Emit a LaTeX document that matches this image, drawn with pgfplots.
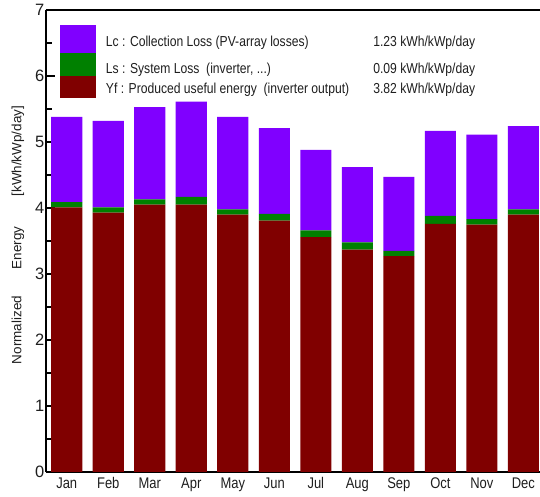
\documentclass[border=0pt]{standalone}
\usepackage{fontspec}
\setmainfont{Liberation Sans}
\newfontfamily\narrowsans{Liberation Sans}[FakeStretch=0.84]
\usepackage{pgfplots}
\usepackage{pgfplotstable}
\pgfplotsset{compat=1.18}
\definecolor{lcpurple}{RGB}{128,0,255}
\definecolor{lsgreen}{RGB}{0,128,0}
\definecolor{yfred}{RGB}{128,0,0}
\definecolor{txt}{RGB}{30,30,30}
\newcommand\xtickfont{\narrowsans\fontsize{15.5}{18}\selectfont}
\newcommand\ytickfont{\fontsize{16.5}{19}\selectfont}
\newcommand\legfont{\narrowsans\fontsize{14.5}{17}\selectfont}
\newcommand\labfont{\fontsize{13.5}{16}\selectfont}

\pgfplotstableread{
m  Yf    Ls    Lc
0  4.01  0.08  1.29
1  3.93  0.08  1.31
2  4.05  0.08  1.40
3  4.05  0.12  1.44
4  3.90  0.08  1.40
5  3.81  0.10  1.30
6  3.56  0.10  1.22
7  3.37  0.11  1.14
8  3.27  0.08  1.12
9  3.76  0.12  1.29
10 3.75  0.08  1.28
11 3.90  0.08  1.26
}\datatable

\begin{document}
\begin{tikzpicture}
\begin{axis}[
  scale only axis,
  width=494bp, height=462bp,
  xmin=-0.5, xmax=11.4, ymin=0, ymax=7,
  ybar stacked, bar width=0.75,
  axis x line=box, axis y line=left,
  axis line style={line width=1.6pt,-},
  every outer y axis line/.append style={-},
  tick align=inside,
  xtick={0,...,11},
  xticklabels={Jan,Feb,Mar,Apr,May,Jun,Jul,Aug,Sep,Oct,Nov,Dec},
  major x tick style={draw=none},
  extra x ticks={0.5,1.5,...,10.5},
  extra x tick labels={},
  extra x tick style={major tick length=10bp, tick style={line width=1.8pt,black}},
  ytick={0,...,7},
  minor ytick={0.5,1.5,...,6.5},
  ytick pos=left,
  y tick style={line width=1.8pt,black},
  major tick length=9bp, minor tick length=6bp,
  /pgf/number format/assume math mode=true,
  xticklabel style={font=\xtickfont, text=txt, yshift=-2bp},
  yticklabel style={font=\ytickfont, text=txt, inner sep=1.5bp},
  ylabel={Normalized\hspace{27bp}Energy\hspace{30bp}[kWh/kWp/day]},
  ylabel style={font=\labfont, text=txt, at={(axis description cs:-0.057,0.513)}, anchor=center},
]
\addplot[fill=yfred, draw=none] table[x=m,y=Yf]{\datatable};
\addplot[fill=lsgreen, draw=none] table[x=m,y=Ls]{\datatable};
\addplot[fill=lcpurple, draw=none] table[x=m,y=Lc]{\datatable};

\fill[lcpurple] (axis cs:-0.163,6.35) rectangle (axis cs:0.698,6.77);
\fill[lsgreen] (axis cs:-0.163,6.0) rectangle (axis cs:0.698,6.35);
\fill[yfred] (axis cs:-0.163,5.67) rectangle (axis cs:0.698,6.0);
\node[anchor=west, inner sep=0, font=\legfont, text=txt] at (axis cs:0.94,6.5) {Lc : Collection Loss (PV-array losses)};
\node[anchor=west, inner sep=0, font=\legfont, text=txt] at (axis cs:0.94,6.09) {Ls : System Loss\ \ (inverter, ...)};
\node[anchor=west, inner sep=0, font=\legfont, text=txt] at (axis cs:0.94,5.79) {Yf : Produced useful energy\ \ (inverter output)};
\node[anchor=west, inner sep=0, font=\legfont, text=txt] at (axis cs:7.38,6.5) {1.23 kWh/kWp/day};
\node[anchor=west, inner sep=0, font=\legfont, text=txt] at (axis cs:7.38,6.09) {0.09 kWh/kWp/day};
\node[anchor=west, inner sep=0, font=\legfont, text=txt] at (axis cs:7.38,5.79) {3.82 kWh/kWp/day};
\end{axis}
\pgfresetboundingbox
\path[use as bounding box] (-46bp,-25bp) rectangle (494bp,472bp);
\end{tikzpicture}
\end{document}
